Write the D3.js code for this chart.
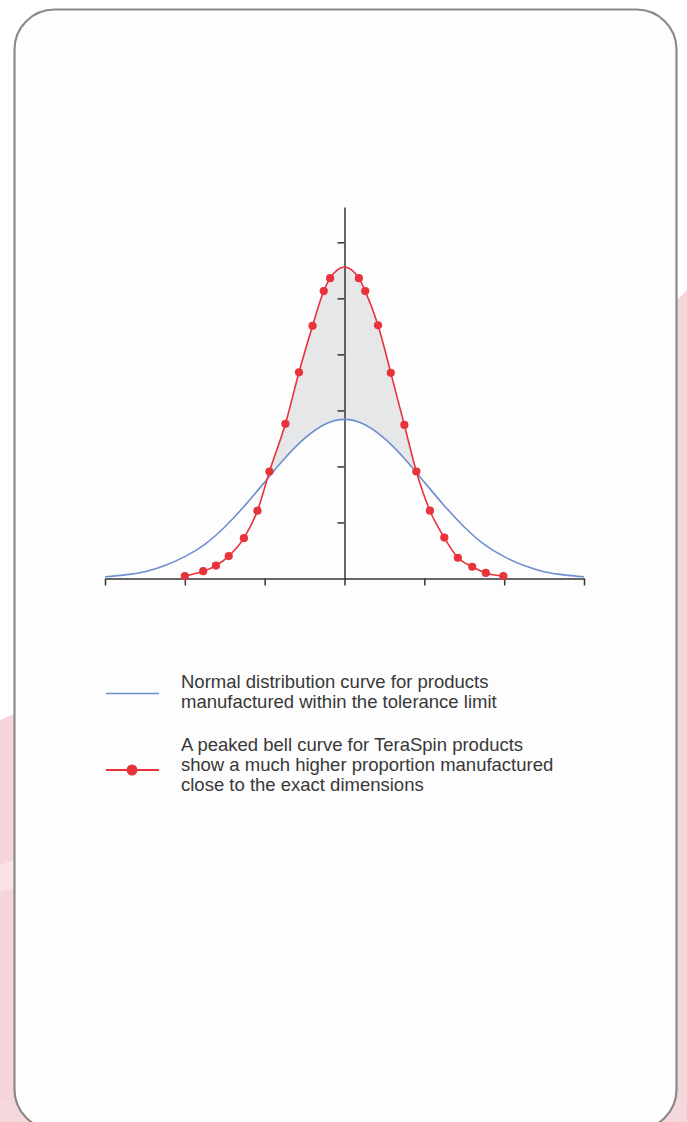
<!DOCTYPE html>
<html>
<head>
<meta charset="utf-8">
<script src="https://cdn.jsdelivr.net/npm/d3@7"></script>
<style>
  html, body { margin: 0; padding: 0; background: #ffffff; }
  svg { display: block; }
  text { font-family: "Liberation Sans", Arial, Helvetica, sans-serif; }
</style>
</head>
<body>
<svg id="chart" width="687" height="1122"></svg>
<script>
// ---- data ----
const xTicks = [-3, -2, -1, 0, 1, 2, 3];
const yTicks = [1, 2, 3, 4, 5, 6];

// normal distribution curve (blue)
const blueX = [-3, -2.75, -2.5, -2.25, -2, -1.75, -1.5, -1.25, -1, -0.75, -0.5, -0.25, 0,
               0.25, 0.5, 0.75, 1, 1.25, 1.5, 1.75, 2, 2.25, 2.5, 2.75, 3];
const blueY = [0.03, 0.065, 0.12, 0.23, 0.39, 0.61, 0.92, 1.3, 1.72, 2.14, 2.5, 2.75, 2.84,
               2.75, 2.5, 2.14, 1.72, 1.3, 0.92, 0.61, 0.39, 0.23, 0.12, 0.065, 0.03];

// peaked TeraSpin curve (red) – marker points
const redX = [-2.0, -1.77, -1.61, -1.45, -1.26, -1.09, -0.94, -0.74, -0.57, -0.40, -0.26, -0.18,
              0.18, 0.26, 0.42, 0.58, 0.75, 0.90, 1.07, 1.25, 1.42, 1.60, 1.77, 1.99];
const redY = [0.045, 0.13, 0.23, 0.40, 0.72, 1.21, 1.91, 2.76, 3.68, 4.51, 5.13, 5.36,
              5.36, 5.13, 4.52, 3.67, 2.74, 1.91, 1.21, 0.73, 0.37, 0.21, 0.10, 0.045];
const redPeakX = 0;
const redPeakY = 5.56;
const yAxisMax = 6.63;

const legendLabels = [
  ["Normal distribution curve for products", "manufactured within the tolerance limit"],
  ["A peaked bell curve for TeraSpin products", "show a much higher proportion manufactured", "close to the exact dimensions"]
];

// ---- colours ----
const RED = "#e8333b";
const BLUE = "#6f8ecf";
const AXIS = "#353535";
const FILL = "#e6e7e9";
const PINK = "#f6d5da";

const svg = d3.select("#chart");

// background decorations
svg.append("rect").attr("width", 687).attr("height", 1122).attr("fill", "#ffffff");
svg.append("path").attr("d", "M677,300 L687,290 L687,1122 L660,1122 Z").attr("fill", "#f1d6da");
svg.append("path").attr("d", "M0,720 L14,714 L14,1122 L0,1122 Z").attr("fill", PINK);
svg.append("path").attr("d", "M0,865 L14,860 L14,888 L0,892 Z").attr("fill", "#fae3e6");
svg.append("rect").attr("x", 0).attr("y", 1100).attr("width", 687).attr("height", 22).attr("fill", "#f4d8dc");

// card
svg.append("rect")
  .attr("x", 14.5).attr("y", 9.5).attr("width", 662).attr("height", 1120)
  .attr("rx", 40).attr("ry", 40)
  .attr("fill", "#fdfdfd").attr("stroke", "#8a8a8a").attr("stroke-width", 2.2);

// scales
const x = d3.scaleLinear().domain([-3, 3]).range([105, 584]);
const y = d3.scaleLinear().domain([0, yAxisMax]).range([578.5, 207]);

const blue = blueX.map((v, i) => [v, blueY[i]]);
const redDots = redX.map((v, i) => [v, redY[i]]);
const redLinePts = redDots.slice(0, 12).concat([[redPeakX, redPeakY]], redDots.slice(12));

const blueCurve = d3.curveNatural;
const redCurve = d3.curveMonotoneX;

// clip: region above the blue curve
const defs = svg.append("defs");
defs.append("clipPath").attr("id", "aboveBlue")
  .append("path")
  .attr("d", d3.area().x(d => x(d[0])).y0(0).y1(d => y(d[1])).curve(blueCurve)(blue));

// gray fill between curves
svg.append("path")
  .attr("clip-path", "url(#aboveBlue)")
  .attr("d", d3.area().x(d => x(d[0])).y0(y(0)).y1(d => y(d[1])).curve(redCurve)(redLinePts))
  .attr("fill", FILL);

// axes
const xAxis = svg.append("g")
  .attr("transform", `translate(0,${y(0)})`)
  .call(d3.axisBottom(x).tickValues(xTicks).tickSize(7).tickSizeOuter(0).tickFormat(""));
const yAxis = svg.append("g")
  .attr("transform", `translate(${x(0)},0)`)
  .call(d3.axisLeft(y).tickValues(yTicks).tickSize(7).tickSizeOuter(0).tickFormat(""));
[xAxis, yAxis].forEach(g => {
  g.selectAll("path.domain").attr("stroke", AXIS).attr("stroke-width", 1.5);
  g.selectAll(".tick line").attr("stroke", AXIS).attr("stroke-width", 1.5);
});

// blue curve
svg.append("path")
  .attr("d", d3.line().x(d => x(d[0])).y(d => y(d[1])).curve(blueCurve)(blue))
  .attr("fill", "none").attr("stroke", BLUE).attr("stroke-width", 1.6);

// red curve
svg.append("path")
  .attr("d", d3.line().x(d => x(d[0])).y(d => y(d[1])).curve(redCurve)(redLinePts))
  .attr("fill", "none").attr("stroke", RED).attr("stroke-width", 1.6);

svg.append("g").selectAll("circle").data(redDots).join("circle")
  .attr("cx", d => x(d[0])).attr("cy", d => y(d[1])).attr("r", 4.1)
  .attr("fill", RED);

// legend
const lg = svg.append("g");
lg.append("line").attr("x1", 106).attr("x2", 159).attr("y1", 693.5).attr("y2", 693.5)
  .attr("stroke", BLUE).attr("stroke-width", 1.4);
lg.append("line").attr("x1", 106).attr("x2", 159).attr("y1", 770).attr("y2", 770)
  .attr("stroke", RED).attr("stroke-width", 1.8);
lg.append("circle").attr("cx", 132).attr("cy", 770).attr("r", 5.5).attr("fill", RED);

const baselines = [[688, 708], [750.5, 770.5, 790.5]];
legendLabels.forEach((lines, i) => {
  lines.forEach((t, j) => {
    lg.append("text").attr("x", 181).attr("y", baselines[i][j])
      .attr("font-size", 18.5).attr("fill", "#383838").text(t);
  });
});
</script>
</body>
</html>
